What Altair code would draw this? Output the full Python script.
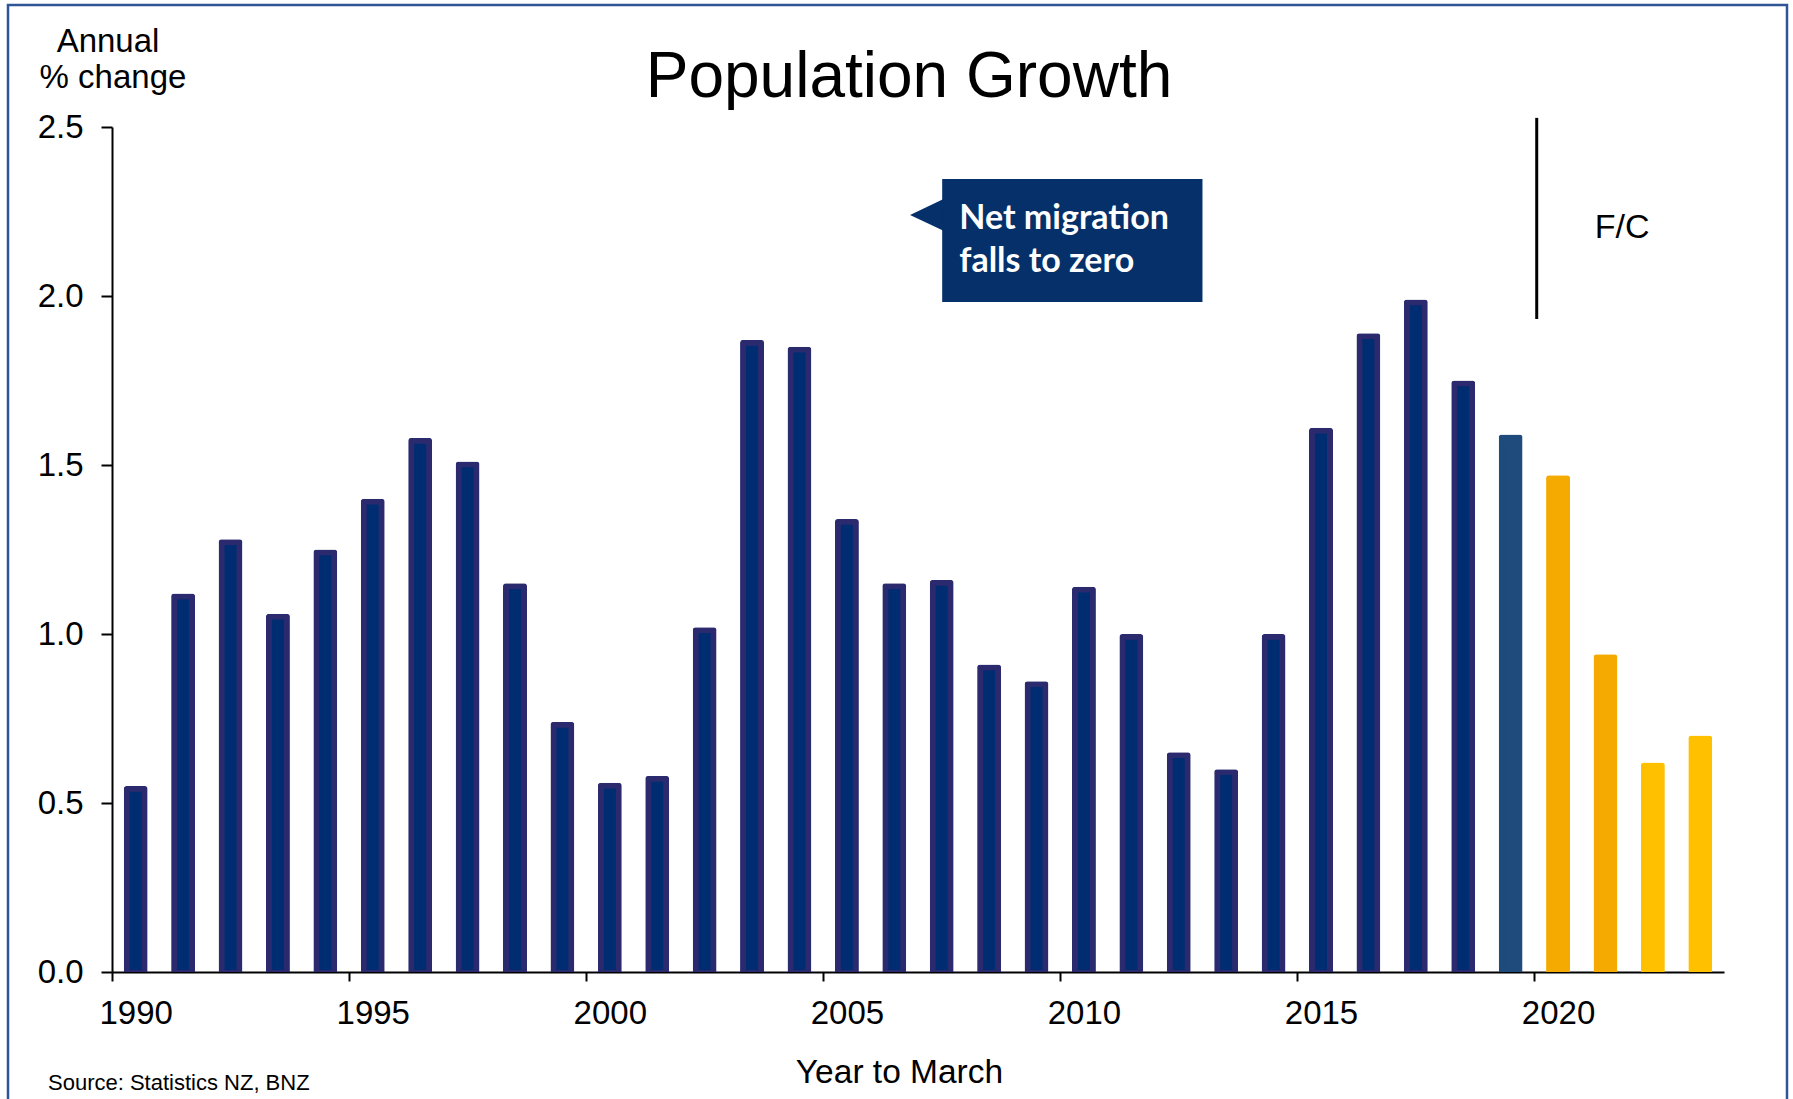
import altair as alt
import pandas as pd

# ---------------- data ----------------
years = list(range(1990, 2024))
growth = [0.55, 1.12, 1.28, 1.06, 1.25, 1.40, 1.58, 1.51, 1.15, 0.74,
          0.56, 0.58, 1.02, 1.87, 1.85, 1.34, 1.15, 1.16, 0.91, 0.86,
          1.14, 1.00, 0.65, 0.60, 1.00, 1.61, 1.89, 1.99, 1.75, 1.59,
          1.47, 0.94, 0.62, 0.70]
series = ["Actual"] * 29 + ["Latest"] + ["Forecast"] * 2 + ["Forecast late"] * 2
series_names = ["Actual", "Latest", "Forecast", "Forecast late"]
fill_colors = ["#002D72", "#1F4A7C", "#F4AA00", "#FFC000"]
edge_colors = ["#2B2A6E", "#1F4A7C", "#F4AA00", "#FFC000"]
x_tick_values = [1990, 1995, 2000, 2005, 2010, 2015, 2020]
y_tick_values = [0.0, 0.5, 1.0, 1.5, 2.0, 2.5]

df = pd.DataFrame({"year": years, "growth": growth, "series": series})

# ---------------- layout ----------------
W, H = 1612, 845
PAD = {"left": 112, "top": 127, "right": 69, "bottom": 127}
FONT = "Liberation Sans"
BOX = "#05306A"
BAND = W / 34.0

xscale = alt.Scale(domain=[1990, 2024], nice=False, zero=False, padding=0)
yscale = alt.Scale(domain=[0, 2.5], nice=False, padding=0)

X_AX = alt.Axis(values=x_tick_values, format="d", title="Year to March",
                grid=False, domainColor="black", domainWidth=2,
                tickColor="black", tickWidth=2, tickSize=9,
                labelFont=FONT, labelFontSize=33, labelColor="black",
                labelPadding=16, labelFlush=False, labelOverlap=False,
                labelOffset=BAND / 2,
                titleFont=FONT, titleFontSize=33.5, titleFontWeight="normal",
                titleColor="black", titleX=787, titleY=110,
                titleAlign="center", titleBaseline="alphabetic")
Y_AX = alt.Axis(values=y_tick_values, format=".1f", title=None,
                grid=False, domainColor="black", domainWidth=2,
                tickColor="black", tickWidth=2, tickSize=11,
                labelFont=FONT, labelFontSize=33, labelColor="black",
                labelPadding=18, labelFlush=False, labelOverlap=False)


def X(field):
    return alt.X(field, scale=xscale, axis=X_AX)


def Y(field):
    return alt.Y(field, scale=yscale, axis=Y_AX)


one = pd.DataFrame({"k": [0]})

frame = alt.Chart(one).mark_rect(fill=None, stroke="#2F5597", strokeWidth=2.5).encode(
    x=alt.value(-104), x2=alt.value(1675), y=alt.value(-122), y2=alt.value(1010)
)

bars_outer = alt.Chart(df).transform_calculate(mid="datum.year + 0.5").mark_bar(
    size=24, cornerRadiusTopLeft=3, cornerRadiusTopRight=3
).encode(
    x=X("mid:Q"), y=Y("growth:Q"),
    color=alt.Color("series:N", scale=alt.Scale(domain=series_names, range=edge_colors), legend=None),
)
bars_inner = alt.Chart(df).transform_calculate(
    mid="datum.year + 0.5", inner="datum.growth - 0.017"
).mark_bar(size=12).encode(
    x=X("mid:Q"), y=Y("inner:Q"), y2=alt.datum(0.006),
    fill=alt.Fill("series:N", scale=alt.Scale(domain=series_names, range=fill_colors), legend=None),
)

# annotation callout (data coordinates)
box_df = pd.DataFrame({"x": [2007.51], "x2": [2013.0], "y": [2.346], "y2": [1.982]})
box = alt.Chart(box_df).mark_rect(color=BOX).encode(
    x=X("x:Q"), x2="x2:Q", y=Y("y:Q"), y2="y2:Q",
)
tri_df = pd.DataFrame({"x": [2007.18], "y": [2.24]})
tri = alt.Chart(tri_df).mark_point(
    shape="M-1,0L1,-0.94L1,0.94Z", size=1089, filled=True, color=BOX, opacity=1
).encode(x=X("x:Q"), y=Y("y:Q"))

note_df = pd.DataFrame({"x": [2007.87, 2007.87], "y": [2.198, 2.071],
                        "t": ["Net migration", "falls to zero"]})
note = alt.Chart(note_df).mark_text(
    font="Lato", fontWeight="bold", fontSize=34, color="white", align="left", baseline="alphabetic"
).encode(x=X("x:Q"), y=Y("y:Q"), text="t:N")

# forecast divider
fc_df = pd.DataFrame({"x": [2020.05], "y": [2.527], "y2": [1.932]})
fc_rule = alt.Chart(fc_df).mark_rule(color="black", strokeWidth=3).encode(
    x=X("x:Q"), y=Y("y:Q"), y2="y2:Q"
)
fc_txt_df = pd.DataFrame({"x": [2021.85], "y": [2.172], "t": ["F/C"]})
fc_txt = alt.Chart(fc_txt_df).mark_text(
    font=FONT, fontSize=34, color="black", align="center", baseline="alphabetic"
).encode(x=X("x:Q"), y=Y("y:Q"), text="t:N")


# texts outside the plot (pixel positions relative to plot origin)
def label(txt, x, y, size, align="center"):
    return alt.Chart(one).mark_text(
        text=txt, font=FONT, fontSize=size, color="black", align=align, baseline="alphabetic"
    ).encode(x=alt.value(x), y=alt.value(y))


title = label("Population  Growth", 797, -30, 64)
ytitle1 = label("Annual", -4, -75, 33)
ytitle2 = label("% change", 1, -39, 33)
source = label("Source: Statistics NZ, BNZ", -64, 963, 22, align="left")

chart = alt.layer(
    frame, bars_outer, bars_inner, box, tri, note, fc_rule, fc_txt, title, ytitle1, ytitle2, source
).properties(
    width=W, height=H, autosize=alt.AutoSizeParams(type="none"), padding=PAD,
    background="white"
).configure_view(stroke=None)

chart.save("out.html", embed_options={"renderer": "svg", "actions": False})
